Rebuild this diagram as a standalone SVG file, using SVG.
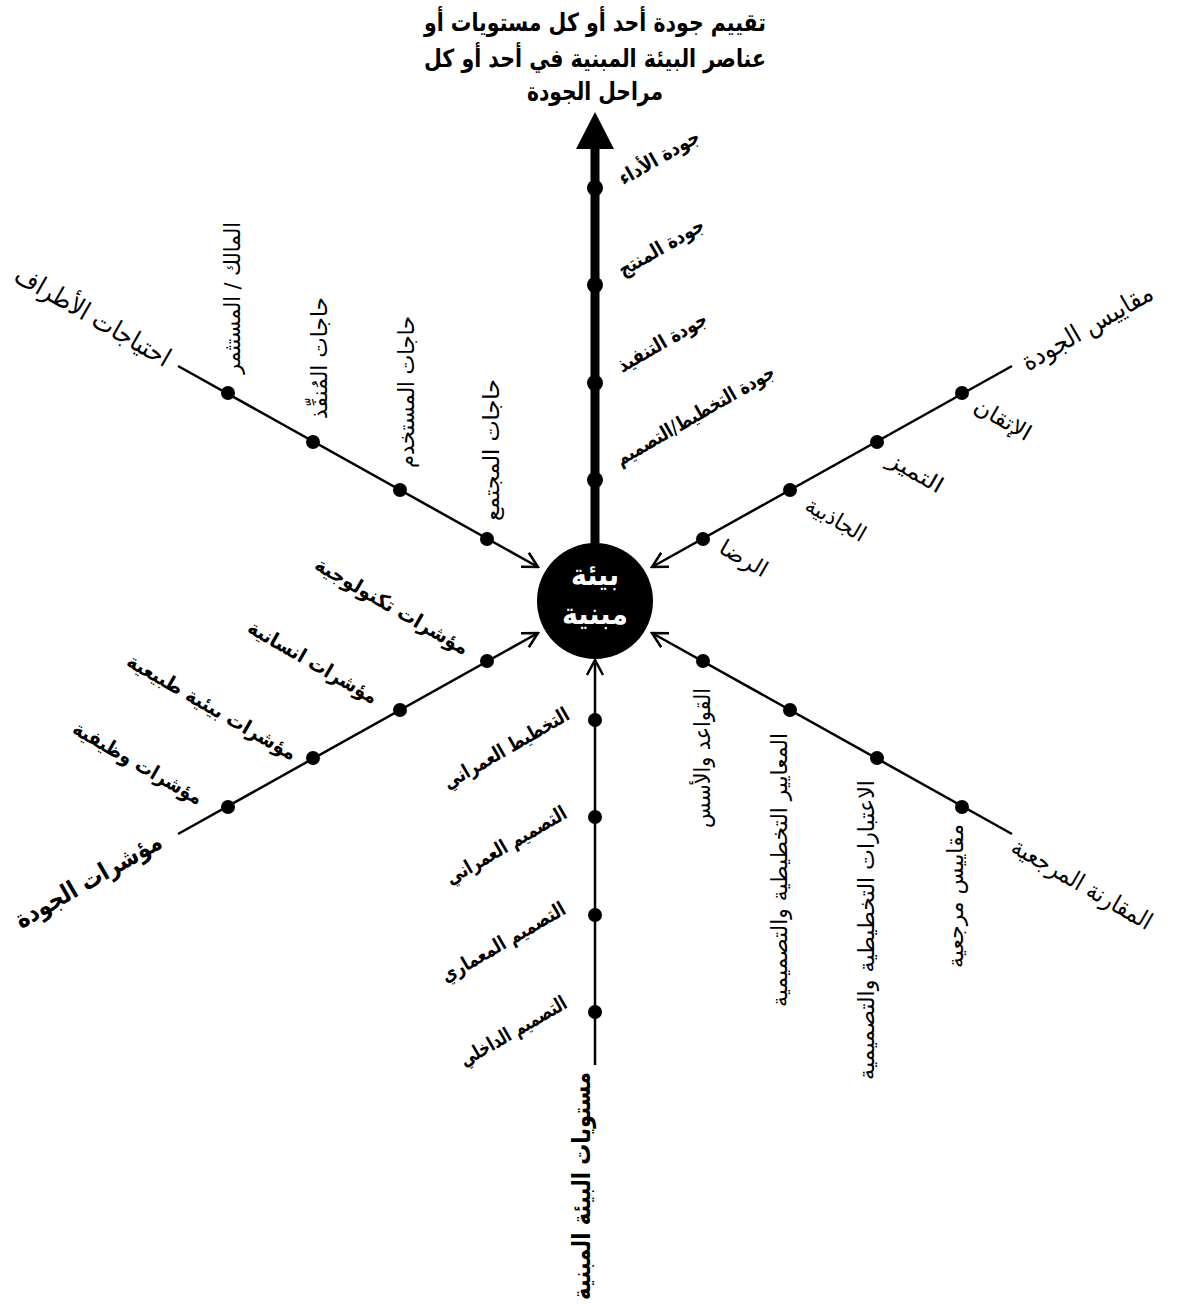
<svg xmlns="http://www.w3.org/2000/svg" width="1184" height="1304" viewBox="0 0 1184 1304">
<style>
.b{font-family:"DejaVu Sans","Noto Sans",sans-serif;font-weight:bold;fill:#000;text-anchor:middle;direction:rtl}
.n{font-family:"DejaVu Sans","Noto Sans",sans-serif;font-weight:normal;fill:#000;text-anchor:middle;direction:rtl}
.t{font-size:25px}
.u{font-size:20px}
.v{font-size:22px}
.m{font-size:26px}
.m2{font-size:24px}
.w{fill:#fff;font-size:30px}
.ln{stroke:#000;stroke-width:2.5;fill:none}
.dot{fill:#000}
</style>
<defs>
<marker id="ah" markerUnits="userSpaceOnUse" markerWidth="20" markerHeight="20" viewBox="0 0 20 20" refX="18" refY="10" orient="auto">
<path d="M3,2 L18,10 L3,18" fill="none" stroke="#000" stroke-width="2.5"/>
</marker>
</defs>

<g id="title">
<text class="b t" x="595" y="31" textLength="342" lengthAdjust="spacingAndGlyphs">تقييم جودة أحد أو كل مستويات أو</text>
<text class="b t" x="595" y="67" textLength="342" lengthAdjust="spacingAndGlyphs">عناصر البيئة المبنية في أحد أو كل</text>
<text class="b t" x="595" y="100" textLength="136" lengthAdjust="spacingAndGlyphs">مراحل الجودة</text>
</g>

<g id="connectors">
<line x1="595" y1="545" x2="595" y2="146" stroke="#000" stroke-width="9"/>
<polygon points="595,112 576,149 614,149" fill="#000"/>
<line class="ln" x1="178" y1="366" x2="538" y2="567" marker-end="url(#ah)"/>
<line class="ln" x1="1012" y1="366" x2="652" y2="567" marker-end="url(#ah)"/>
<line class="ln" x1="1012" y1="834" x2="652" y2="633" marker-end="url(#ah)"/>
<line class="ln" x1="178" y1="834" x2="538" y2="633" marker-end="url(#ah)"/>
<line class="ln" x1="595" y1="1065" x2="595" y2="660" marker-end="url(#ah)"/>
</g>

<g id="center">
<circle cx="595" cy="601" r="58" fill="#000"/>
<text class="b w" x="595" y="585" textLength="48" lengthAdjust="spacingAndGlyphs">بيئة</text>
<text class="b w" x="595" y="624" textLength="66" lengthAdjust="spacingAndGlyphs">مبنية</text>
</g>

<g id="up-branch">
<circle class="dot" cx="595" cy="188" r="8"/>
<circle class="dot" cx="595" cy="285" r="8"/>
<circle class="dot" cx="595" cy="383" r="8"/>
<circle class="dot" cx="595" cy="480" r="8"/>
<text class="b u" transform="translate(659,157) rotate(-30)" y="7" textLength="90" lengthAdjust="spacingAndGlyphs">جودة الأداء</text>
<text class="b u" transform="translate(661,247) rotate(-30)" y="7" textLength="96" lengthAdjust="spacingAndGlyphs">جودة المنتج</text>
<text class="b u" transform="translate(662,342) rotate(-30)" y="7" textLength="100" lengthAdjust="spacingAndGlyphs">جودة التنفيذ</text>
<text class="b u" transform="translate(695,415) rotate(-30)" y="7" textLength="180" lengthAdjust="spacingAndGlyphs">جودة التخطيط/التصميم</text>
</g>

<g id="upper-left-branch">
<circle class="dot" cx="228" cy="393" r="7"/>
<circle class="dot" cx="313" cy="442" r="7"/>
<circle class="dot" cx="400" cy="490" r="7"/>
<circle class="dot" cx="487" cy="539" r="7"/>
<text class="n m" transform="translate(93,316) rotate(30)" y="9" textLength="175" lengthAdjust="spacingAndGlyphs">احتياجات الأطراف</text>
<text class="n v" transform="translate(232,298) rotate(-90)" y="8" textLength="152" lengthAdjust="spacingAndGlyphs">المالك / المستثمر</text>
<text class="n v" transform="translate(319,358) rotate(-90)" y="8" textLength="122" lengthAdjust="spacingAndGlyphs">حاجات المُنفِّذ</text>
<text class="n v" transform="translate(406,392) rotate(-90)" y="8" textLength="152" lengthAdjust="spacingAndGlyphs">حاجات المستخدم</text>
<text class="n v" transform="translate(491,450) rotate(-90)" y="8" textLength="142" lengthAdjust="spacingAndGlyphs">حاجات المجتمع</text>
</g>

<g id="upper-right-branch">
<circle class="dot" cx="962" cy="393" r="7"/>
<circle class="dot" cx="877" cy="442" r="7"/>
<circle class="dot" cx="790" cy="490" r="7"/>
<circle class="dot" cx="703" cy="539" r="7"/>
<text class="n m" transform="translate(1087,327) rotate(-30)" y="9" textLength="147" lengthAdjust="spacingAndGlyphs">مقاييس الجودة</text>
<text class="n v" transform="translate(1003,419) rotate(30)" y="8" textLength="62" lengthAdjust="spacingAndGlyphs">الإتقان</text>
<text class="n v" transform="translate(916,472) rotate(30)" y="8" textLength="60" lengthAdjust="spacingAndGlyphs">التميز</text>
<text class="n v" transform="translate(836,519) rotate(30)" y="8" textLength="66" lengthAdjust="spacingAndGlyphs">الجاذبية</text>
<text class="n v" transform="translate(744,558) rotate(30)" y="8" textLength="52" lengthAdjust="spacingAndGlyphs">الرضا</text>
</g>

<g id="lower-right-branch">
<circle class="dot" cx="703" cy="661" r="7"/>
<circle class="dot" cx="790" cy="710" r="7"/>
<circle class="dot" cx="877" cy="758" r="7"/>
<circle class="dot" cx="962" cy="807" r="7"/>
<text class="n m2" transform="translate(1082,884) rotate(30)" y="8" textLength="158" lengthAdjust="spacingAndGlyphs">المقارنة المرجعية</text>
<text class="n v" transform="translate(702,758) rotate(-90)" y="8" textLength="140" lengthAdjust="spacingAndGlyphs">القواعد والأسس</text>
<text class="n v" transform="translate(779,870) rotate(-90)" y="8" textLength="274" lengthAdjust="spacingAndGlyphs">المعايير التخطيطية والتصميمية</text>
<text class="n v" transform="translate(866,930) rotate(-90)" y="8" textLength="300" lengthAdjust="spacingAndGlyphs">الاعتبارات التخطيطية والتصميمية</text>
<text class="n v" transform="translate(955,896) rotate(-90)" y="8" textLength="144" lengthAdjust="spacingAndGlyphs">مقاييس مرجعية</text>
</g>

<g id="lower-left-branch">
<circle class="dot" cx="487" cy="661" r="7"/>
<circle class="dot" cx="400" cy="710" r="7"/>
<circle class="dot" cx="313" cy="758" r="7"/>
<circle class="dot" cx="228" cy="807" r="7"/>
<text class="b t" transform="translate(88,880) rotate(-30)" y="9" textLength="165" lengthAdjust="spacingAndGlyphs">مؤشرات الجودة</text>
<text class="b u" transform="translate(392,606) rotate(30)" y="7" textLength="174" lengthAdjust="spacingAndGlyphs">مؤشرات تكنولوجية</text>
<text class="b u" transform="translate(313,662) rotate(30)" y="7" textLength="146" lengthAdjust="spacingAndGlyphs">مؤشرات انسانية</text>
<text class="b u" transform="translate(212,707) rotate(30)" y="7" textLength="192" lengthAdjust="spacingAndGlyphs">مؤشرات بيئية طبيعية</text>
<text class="b u" transform="translate(138,763) rotate(30)" y="7" textLength="146" lengthAdjust="spacingAndGlyphs">مؤشرات وظيفية</text>
</g>

<g id="down-branch">
<circle class="dot" cx="595" cy="720" r="7"/>
<circle class="dot" cx="595" cy="817" r="7"/>
<circle class="dot" cx="595" cy="915" r="7"/>
<circle class="dot" cx="595" cy="1012" r="7"/>
<text class="b u" transform="translate(506,748) rotate(-30)" y="7" textLength="142" lengthAdjust="spacingAndGlyphs">التخطيط العمراني</text>
<text class="b u" transform="translate(506,845) rotate(-30)" y="7" textLength="136" lengthAdjust="spacingAndGlyphs">التصميم العمراني</text>
<text class="b u" transform="translate(503,942) rotate(-30)" y="7" textLength="140" lengthAdjust="spacingAndGlyphs">التصميم المعماري</text>
<text class="b u" transform="translate(513,1031) rotate(-30)" y="7" textLength="120" lengthAdjust="spacingAndGlyphs">التصميم الداخلي</text>
<text class="b t" transform="translate(581,1186) rotate(-90)" y="9" textLength="228" lengthAdjust="spacingAndGlyphs">مستويات البيئة المبنية</text>
</g>
</svg>
